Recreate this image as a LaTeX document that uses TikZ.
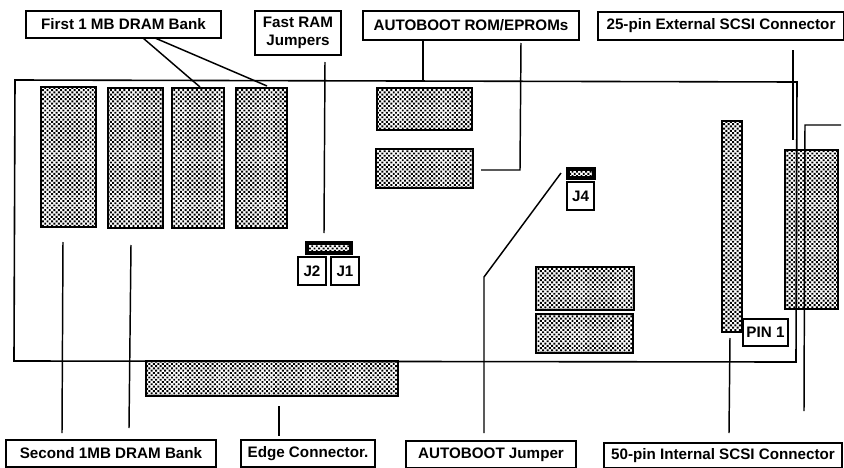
\documentclass[tikz,border=0pt]{standalone}
\usepackage{fontspec}
\setmainfont{Liberation Sans}
\usetikzlibrary{patterns.meta,calc}
\tikzset{
  x=0.75pt,y=-0.75pt,
  chipbox/.style={draw=black,line width=1.6pt,pattern={Dots[radius=1.02pt,distance=2.4pt,angle=45]},pattern color=black,inner sep=0,outer sep=0},
  jumperbox/.style={chipbox,line width=2.6pt},
  labelbox/.style={draw=black,line width=1.2pt,fill=white,font=\fontsize{11.4pt}{13pt}\selectfont\bfseries,align=center,inner sep=0,outer sep=0},
  leader/.style={draw=black,line width=1.1pt,line join=miter},
  boardline/.style={draw=black,line width=1.2pt,line join=miter}
}
\newcommand{\chipat}[6][chipbox]{\node[#1,minimum width={(#5-#3)*0.75pt},minimum height={(#6-#4)*0.75pt}] (#2) at ({(#3+#5)/2},{(#4+#6)/2}) {};}
\newcommand{\labelat}[6]{\node[labelbox,minimum width={(#4-#2)*0.75pt},minimum height={(#5-#3)*0.75pt}] (#1) at ({(#2+#4)/2},{(#3+#5)/2}) {#6};}
\begin{document}
\begin{tikzpicture}
\useasboundingbox (0,0) rectangle (844,468);
% chips
\chipat{dramA}{41}{87}{96}{227}
\chipat{dramB}{108}{88}{163}{228}
\chipat{dramC}{172}{88}{224}{228}
\chipat{dramD}{236}{88}{287}{228}
\chipat{romA}{377}{88}{472}{130}
\chipat{romB}{376}{149}{473}{188}
\chipat{chipA}{536}{267}{634}{310}
\chipat{chipB}{536}{314}{633}{353}
\chipat{intscsi}{722}{121}{742}{332}
\chipat{extscsi}{785}{150}{838}{309}
\chipat{edge}{146}{361}{398}{396}
\chipat[jumperbox]{jumpJ}{307}{243}{351}{253}
\chipat[jumperbox]{jumpF}{568}{169}{594}{178}
% board
\coordinate (bTL) at (15,80);
\coordinate (bTR) at (797,82);
\coordinate (bBR) at (796,362);
\coordinate (bBL) at (14,361);
\draw[boardline] (bTL) -- (bTR) -- (bBR) -- (bBL) -- cycle;
% labels
\labelat{first}{26}{11}{221}{38}{First 1 MB DRAM Bank}
\labelat{fast}{255}{11}{341}{55}{Fast RAM\\Jumpers}
\labelat{rom}{363}{11}{579}{40}{AUTOBOOT ROM/EPROMs}
\labelat{ext}{598}{12}{844}{40}{25-pin External SCSI Connector}
\labelat{second}{6}{440}{216}{467}{Second 1MB DRAM Bank}
\labelat{edgel}{241}{440}{375}{467}{Edge Connector.}
\labelat{autoj}{406}{441}{576}{468}{AUTOBOOT Jumper}
\labelat{int}{604}{443}{842}{468}{50-pin Internal SCSI Connector}
\labelat{jtwo}{298}{257}{326}{285}{J2}
\labelat{jone}{331}{257}{359}{285}{J1}
\labelat{jfour}{567}{182}{594}{210}{J4}
\labelat{pin}{743}{319}{788}{346}{PIN 1}
% free ends
\coordinate (c1) at (200,87);
\coordinate (c2) at (267,86);
\coordinate (c3) at (325,62);
\coordinate (c4) at (324,233);
\coordinate (c5) at (423,80);
\coordinate (c6) at (521,43);
\coordinate (c7) at (520,170);
\coordinate (c8) at (481,170);
\coordinate (c9) at (793,50);
\coordinate (c10) at (793,140);
\coordinate (c11) at (841,125);
\coordinate (c12) at (805,125);
\coordinate (c13) at (804,411);
\coordinate (c14) at (561,173);
\coordinate (c15) at (484,277);
\coordinate (c16) at (484,433);
\coordinate (c17) at (63,242);
\coordinate (c18) at (62,433);
\coordinate (c19) at (131,245);
\coordinate (c20) at (129,428);
\coordinate (c21) at (279,406);
\coordinate (c22) at (279,436);
\coordinate (c23) at (730,338);
\coordinate (c24) at (729,433);
% connectors
\draw[leader] ($(first.south)+(19.5,0)$) -- (c1);
\draw[leader] ($(first.south)+(31.5,0)$) -- (c2);
\draw[leader] (c3) -- (c4);
\draw[leader] (rom.south -| c5) -- (c5);
\draw[leader] (c6) -- (c7) -- (c8);
\draw[leader] (c9) -- (c10);
\draw[leader] (c11) -- (c12) -- (c13);
\draw[leader] (c14) -- (c15) -- (c16);
\draw[leader] (c17) -- (c18);
\draw[leader] (c19) -- (c20);
\draw[leader] (c21) -- (c22);
\draw[leader] (c23) -- (c24);
\end{tikzpicture}
\end{document}
